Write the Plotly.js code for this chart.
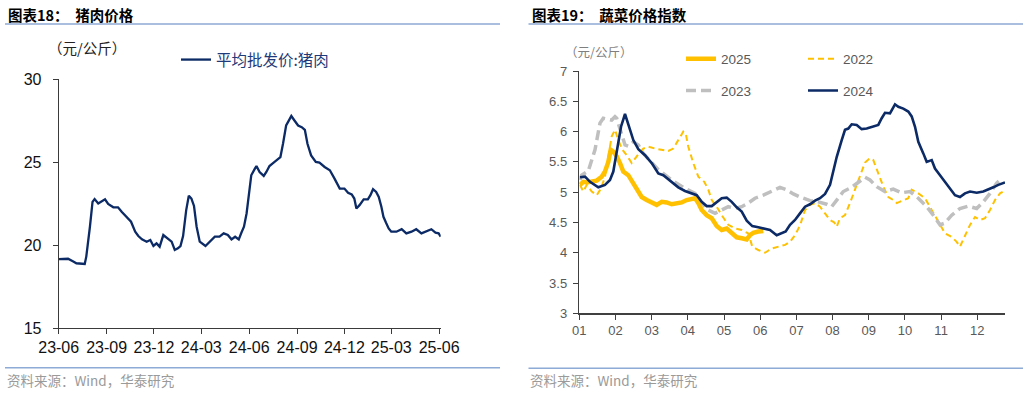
<!DOCTYPE html>
<html>
<head>
<meta charset="utf-8">
<script src="https://cdn.plot.ly/plotly-3.0.1.min.js"></script>
<style>
html,body{margin:0;padding:0;background:#fff;}
#chart{width:1029px;height:393px;}
</style>
</head>
<body>
<div id="chart"></div>
<script>
// ---------- Chart 18: pork wholesale price (元/公斤) ----------
const porkDates = [
 '2023-06-01','2023-06-19','2023-06-29','2023-07-05','2023-07-21','2023-07-24','2023-07-31','2023-08-05','2023-08-09','2023-08-16',
 '2023-08-29','2023-09-04','2023-09-14','2023-09-23','2023-09-30','2023-10-09','2023-10-18','2023-10-26','2023-11-01','2023-11-08',
 '2023-11-17','2023-11-24','2023-11-30','2023-12-06','2023-12-12','2023-12-19','2023-12-28','2024-01-04','2024-01-10','2024-01-16',
 '2024-01-21','2024-01-26','2024-02-01','2024-02-06','2024-02-11','2024-02-16','2024-02-21','2024-02-27','2024-03-09','2024-03-17',
 '2024-03-27','2024-04-05','2024-04-13','2024-04-21','2024-04-28','2024-05-05','2024-05-12','2024-05-17','2024-05-22','2024-05-27',
 '2024-05-31','2024-06-05','2024-06-12','2024-06-15','2024-06-21','2024-06-29','2024-07-04','2024-07-10','2024-07-18','2024-07-26',
 '2024-07-31','2024-08-05','2024-08-11','2024-08-18','2024-08-21','2024-08-27','2024-09-03','2024-09-10','2024-09-16','2024-09-21',
 '2024-09-28','2024-10-07','2024-10-14','2024-10-24','2024-11-03','2024-11-12','2024-11-22','2024-12-01','2024-12-08','2024-12-15',
 '2024-12-20','2024-12-24','2024-12-30','2025-01-07','2025-01-15','2025-01-20','2025-01-25','2025-01-31','2025-02-05','2025-02-10',
 '2025-02-14','2025-02-19','2025-02-24','2025-03-01','2025-03-11','2025-03-21','2025-03-30','2025-04-09','2025-04-18','2025-04-28',
 '2025-05-07','2025-05-17','2025-05-25','2025-05-31','2025-06-04'
];
const porkPrice = [
 19.15,19.17,19.0,18.9,18.86,19.3,21.1,22.6,22.77,22.5,
 22.75,22.47,22.27,22.27,22.0,21.7,21.4,20.8,20.54,20.34,
 20.2,20.3,19.94,20.1,19.9,20.6,20.4,20.2,19.7,19.8,
 19.94,20.54,22.1,22.97,22.8,22.35,21.1,20.2,19.94,20.2,
 20.5,20.5,20.7,20.6,20.34,20.5,20.34,20.74,21.1,21.9,
 23.1,24.2,24.6,24.76,24.4,24.16,24.4,24.76,24.96,25.2,
 25.3,26.1,27.2,27.6,27.77,27.5,27.2,27.1,26.93,26.1,
 25.4,25.0,24.96,24.7,24.5,24.0,23.4,23.4,23.15,23.05,
 22.8,22.2,22.4,22.75,22.75,23.0,23.36,23.2,22.9,22.3,
 21.7,21.34,21.0,20.8,20.8,20.95,20.7,20.8,20.95,20.7,
 20.8,20.95,20.74,20.7,20.5
];
const porkName = '平均批发价:猪肉';

// ---------- Chart 19: vegetable price index (x = months since Jan 1) ----------
const monthLabels = ['01','02','03','04','05','06','07','08','09','10','11','12'];

const m2025 = [0.02,0.111,0.205,0.343,0.481,0.619,0.71,0.802,0.868,0.94,1.034,1.125,1.216,1.354,1.493,1.586,1.725,1.863,2.001,2.139,
 2.278,2.416,2.554,2.692,2.83,2.968,3.107,3.198,3.289,3.383,3.521,3.66,3.798,3.936,4.074,4.212,4.35,4.489,4.627,4.718,4.809,4.947,5.086];
const v2025 = [5.12,5.17,5.16,5.17,5.19,5.255,5.34,5.50,5.70,5.67,5.59,5.48,5.34,5.28,5.15,5.04,4.92,4.87,4.82,4.79,
 4.84,4.83,4.80,4.82,4.83,4.87,4.88,4.90,4.82,4.705,4.62,4.57,4.44,4.375,4.40,4.33,4.255,4.24,4.22,4.29,4.33,4.35,4.36];

const m2022 = [0.02,0.111,0.205,0.343,0.481,0.6,0.71,0.802,0.896,0.987,1.078,1.189,1.31,1.448,1.54,1.65,1.769,1.907,2.092,2.278,
 2.46,2.598,2.736,2.875,2.941,3.013,3.151,3.289,3.455,3.566,3.66,3.798,3.936,4.118,4.303,4.489,4.671,4.782,4.947,5.133,
 5.318,5.5,5.686,5.824,5.962,6.1,6.239,6.377,6.515,6.653,6.792,6.93,7.048,7.114,7.206,7.344,7.482,7.62,7.759,7.897,
 8.035,8.126,8.264,8.403,8.541,8.679,8.773,8.955,9.093,9.187,9.37,9.555,9.74,9.923,10.108,10.293,10.431,10.522,10.66,10.799,
 10.937,11.075,11.213,11.351,11.49,11.628,11.719];
const v2022 = [5.12,5.01,5.12,5.01,4.95,5.06,5.255,5.59,5.92,6.03,5.86,5.70,5.61,5.48,5.56,5.64,5.72,5.75,5.72,5.70,
 5.68,5.72,5.86,6.00,5.97,5.75,5.48,5.255,5.17,5.04,4.87,4.76,4.62,4.46,4.40,4.375,4.32,4.10,4.045,4.00,
 4.07,4.10,4.13,4.18,4.29,4.45,4.705,4.79,4.82,4.76,4.65,4.54,4.50,4.43,4.57,4.62,4.82,5.04,5.28,5.49,
 5.56,5.53,5.31,5.09,4.92,4.87,4.82,4.87,4.90,5.04,4.98,4.90,4.705,4.51,4.32,4.26,4.18,4.10,4.29,4.46,
 4.59,4.54,4.57,4.705,4.87,4.98,5.01];

const m2023 = [0.02,0.066,0.249,0.434,0.572,0.663,0.896,0.987,1.034,1.125,1.263,1.354,1.493,1.631,1.769,1.907,2.184,2.554,2.921,3.198,
 3.383,3.566,3.751,3.936,4.118,4.303,4.489,4.671,4.856,5.086,5.318,5.547,5.732,5.915,6.147,6.377,6.606,6.838,6.976,7.114,
 7.297,7.529,7.711,7.897,8.035,8.22,8.449,8.679,8.911,9.14,9.37,9.602,9.784,9.97,10.108,10.293,10.522,10.752,10.984,11.166,
 11.351,11.536,11.628];
const v2023 = [5.2,5.28,5.35,5.70,6.14,6.22,6.19,6.245,6.22,6.03,5.78,5.76,5.83,5.78,5.64,5.55,5.37,5.20,5.06,4.98,
 4.82,4.705,4.65,4.705,4.76,4.73,4.76,4.82,4.90,4.95,5.01,5.08,5.04,4.97,4.91,4.86,4.84,4.80,4.76,4.87,
 5.01,5.08,5.17,5.245,5.20,5.09,5.01,5.05,4.99,5.01,4.90,4.76,4.62,4.46,4.49,4.62,4.73,4.77,4.73,4.84,
 4.98,5.15,5.20];

const m2024 = [0.02,0.158,0.296,0.525,0.71,0.848,0.94,1.034,1.153,1.263,1.354,1.493,1.631,1.816,2.001,2.184,2.322,2.554,2.736,2.921,
 3.107,3.245,3.383,3.521,3.66,3.798,3.936,4.074,4.212,4.35,4.489,4.627,4.782,4.947,5.086,5.271,5.456,5.594,5.705,5.824,
 5.962,6.1,6.239,6.377,6.515,6.653,6.792,6.93,7.02,7.114,7.253,7.344,7.435,7.529,7.667,7.805,7.944,8.126,8.264,8.358,
 8.449,8.587,8.651,8.726,8.817,8.955,9.093,9.187,9.279,9.37,9.508,9.602,9.74,9.831,9.97,10.108,10.246,10.384,10.522,10.66,
 10.799,10.984,11.166,11.305,11.443,11.581,11.766];
const v2024 = [5.245,5.255,5.17,5.08,5.12,5.2,5.34,5.7,6.08,6.29,6.11,5.86,5.71,5.61,5.48,5.31,5.28,5.16,5.08,5.02,
 4.98,4.95,4.84,4.77,4.77,4.84,4.90,4.91,4.84,4.75,4.68,4.53,4.44,4.42,4.40,4.375,4.29,4.33,4.35,4.46,
 4.54,4.65,4.76,4.80,4.86,4.90,4.97,5.12,5.34,5.58,5.86,6.03,6.05,6.12,6.11,6.04,6.05,6.08,6.11,6.22,
 6.31,6.30,6.38,6.45,6.41,6.38,6.33,6.25,6.08,5.83,5.64,5.50,5.53,5.39,5.28,5.17,5.08,4.95,4.92,4.98,
 5.01,4.99,5.01,5.04,5.08,5.12,5.16];

// ---------- helpers ----------
const W = 1029, H = 393;
const px = x => x / W;
const py = y => 1 - y / H;

const NAVY = '#0b2a66';
const YELLOW = '#ffc000';
const GRAY = '#bfbfbf';
const CJK = '"Noto Sans CJK SC", "Liberation Sans", sans-serif';
const LAT = '"Liberation Sans", Arial, "Noto Sans CJK SC", sans-serif';

const traces = [
  {x: porkDates, y: porkPrice, name: porkName, type: 'scatter', mode: 'lines',
   xaxis: 'x', yaxis: 'y', legend: 'legend',
   line: {color: NAVY, width: 2.3}},
  {x: m2022, y: v2022, name: '2022', type: 'scatter', mode: 'lines',
   xaxis: 'x2', yaxis: 'y2', legend: 'legend2', legendrank: 2,
   line: {color: YELLOW, width: 2, dash: '6px,4px'}},
  {x: m2023, y: v2023, name: '2023', type: 'scatter', mode: 'lines',
   xaxis: 'x2', yaxis: 'y2', legend: 'legend3', legendrank: 1,
   line: {color: GRAY, width: 3.5, dash: '10px,5px'}},
  {x: m2025, y: v2025, name: '2025', type: 'scatter', mode: 'lines',
   xaxis: 'x2', yaxis: 'y2', legend: 'legend2', legendrank: 1,
   line: {color: YELLOW, width: 4.5}},
  {x: m2024, y: v2024, name: '2024', type: 'scatter', mode: 'lines',
   xaxis: 'x2', yaxis: 'y2', legend: 'legend3', legendrank: 2,
   line: {color: NAVY, width: 2.6}}
];

const ruleColor = '#8eaad6';
const layout = {
  width: W, height: H,
  margin: {l: 0, r: 0, t: 0, b: 0},
  paper_bgcolor: '#fff', plot_bgcolor: 'rgba(0,0,0,0)',
  showlegend: true,
  font: {family: LAT, color: '#000'},
  xaxis: {
    domain: [px(58.7), px(440.7)], anchor: 'y', type: 'date',
    range: ['2023-06-01', '2025-06-04'],
    tick0: '2023-06-01', dtick: 'M3', tickformat: '%y-%m',
    showline: true, linecolor: '#3a3a3a', linewidth: 1,
    ticks: 'outside', ticklen: 5, tickcolor: '#3a3a3a',
    showgrid: false, zeroline: false,
    tickfont: {family: LAT, size: 16, color: '#111'}
  },
  yaxis: {
    domain: [py(328), py(79)], anchor: 'x',
    range: [15, 30], tickvals: [15, 20, 25, 30],
    showline: true, linecolor: '#3a3a3a', linewidth: 1,
    ticks: 'outside', ticklen: 5, tickcolor: '#3a3a3a',
    showgrid: false, zeroline: false, ticklabelstandoff: 8,
    tickfont: {family: LAT, size: 16, color: '#111'}
  },
  xaxis2: {
    domain: [px(579.3), px(1005)], anchor: 'y2',
    range: [0, 11.766],
    tickvals: [0,1,2,3,4,5,6,7,8,9,10,11], ticktext: monthLabels,
    showline: true, linecolor: '#404040', linewidth: 1.5,
    ticks: 'outside', ticklen: 5, tickcolor: '#404040',
    showgrid: false, zeroline: false,
    tickfont: {family: LAT, size: 13, color: '#595959'}
  },
  yaxis2: {
    domain: [py(313.3), py(71)], anchor: 'x2',
    range: [3, 7], dtick: 0.5,
    showline: true, linecolor: '#404040', linewidth: 1.5,
    ticks: 'outside', ticklen: 5, tickcolor: '#404040',
    showgrid: false, zeroline: false, ticklabelstandoff: 3,
    tickfont: {family: LAT, size: 13, color: '#595959'}
  },
  legend: {
    x: px(176), y: py(60), xanchor: 'left', yanchor: 'middle',
    orientation: 'h', bgcolor: 'rgba(0,0,0,0)',
    font: {family: CJK, size: 15.5, color: '#1f3a78'}
  },
  legend2: {
    x: px(681), y: py(59), xanchor: 'left', yanchor: 'middle',
    orientation: 'h', entrywidth: 77, bgcolor: 'rgba(0,0,0,0)',
    traceorder: 'normal',
    font: {family: LAT, size: 13.5, color: '#595959'}
  },
  legend3: {
    x: px(681), y: py(90.7), xanchor: 'left', yanchor: 'middle',
    orientation: 'h', entrywidth: 77, bgcolor: 'rgba(0,0,0,0)',
    traceorder: 'normal',
    font: {family: LAT, size: 13.5, color: '#595959'}
  },
  shapes: [
    {type: 'line', xref: 'paper', yref: 'paper', x0: px(5), x1: px(500), y0: py(24), y1: py(24), line: {color: ruleColor, width: 1.5}},
    {type: 'line', xref: 'paper', yref: 'paper', x0: px(5), x1: px(500), y0: py(367.7), y1: py(367.7), line: {color: ruleColor, width: 1.5}},
    {type: 'line', xref: 'paper', yref: 'paper', x0: px(528.5), x1: px(1023), y0: py(24), y1: py(24), line: {color: ruleColor, width: 1.5}},
    {type: 'line', xref: 'paper', yref: 'paper', x0: px(528.5), x1: px(1023), y0: py(368.3), y1: py(368.3), line: {color: ruleColor, width: 1.5}}
  ],
  annotations: [
    {xref: 'paper', yref: 'paper', x: px(6), y: py(15), xanchor: 'left', yanchor: 'middle', showarrow: false,
     text: '<b>图表18：  猪肉价格</b>', font: {family: CJK, size: 14.5, color: '#000'}},
    {xref: 'paper', yref: 'paper', x: px(530), y: py(15), xanchor: 'left', yanchor: 'middle', showarrow: false,
     text: '<b>图表19：  蔬菜价格指数</b>', font: {family: CJK, size: 14.5, color: '#000'}},
    {xref: 'paper', yref: 'paper', x: px(46), y: py(48), xanchor: 'left', yanchor: 'middle', showarrow: false,
     text: '（元/公斤）', font: {family: CJK, size: 14.5, color: '#222'}},
    {xref: 'paper', yref: 'paper', x: px(563), y: py(52), xanchor: 'left', yanchor: 'middle', showarrow: false,
     text: '（元/公斤）', font: {family: CJK, size: 12.5, color: '#7f7f7f'}},
    {xref: 'paper', yref: 'paper', x: px(5), y: py(380), xanchor: 'left', yanchor: 'middle', showarrow: false,
     text: '资料来源：Wind，华泰研究', font: {family: CJK, size: 13.5, color: '#9a9a9a'}},
    {xref: 'paper', yref: 'paper', x: px(528), y: py(380), xanchor: 'left', yanchor: 'middle', showarrow: false,
     text: '资料来源：Wind，华泰研究', font: {family: CJK, size: 13.5, color: '#9a9a9a'}}
  ]
};

Plotly.newPlot('chart', traces, layout, {displayModeBar: false, staticPlot: true});
</script>
</body>
</html>
